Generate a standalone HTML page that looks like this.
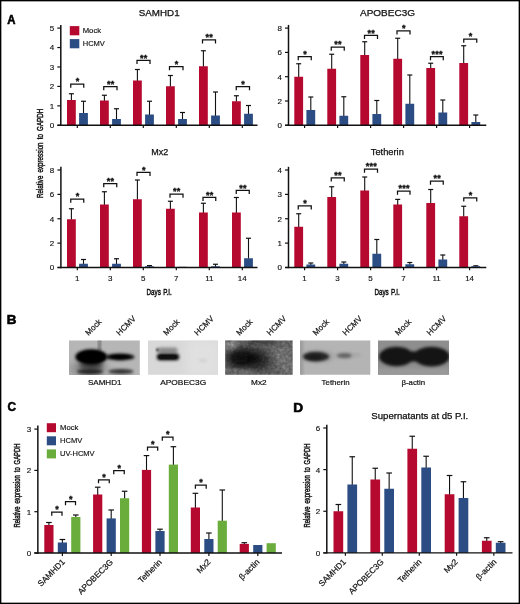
<!DOCTYPE html>
<html lang="en"><head><meta charset="utf-8"><title>Figure</title>
<style>
html,body{margin:0;padding:0;background:#fff;}
body{width:520px;height:604px;overflow:hidden;font-family:"Liberation Sans",Arial,sans-serif;}
svg{display:block;}
svg text{font-family:"Liberation Sans",Arial,Helvetica,sans-serif;}
</style></head><body>
<svg width="520" height="604" viewBox="0 0 520 604">
<rect x="0.65" y="0.65" width="518.7" height="602.7" fill="#fff" stroke="#000" stroke-width="1.4"/>
<line x1="71.40" y1="93.75" x2="71.40" y2="100.50" stroke="#111" stroke-width="1.1"/>
<line x1="68.90" y1="93.75" x2="73.90" y2="93.75" stroke="#111" stroke-width="1.2"/>
<rect x="67.00" y="100.00" width="8.80" height="25.30" fill="#b5092f"/>
<line x1="83.50" y1="101.25" x2="83.50" y2="113.50" stroke="#111" stroke-width="1.1"/>
<line x1="81.00" y1="101.25" x2="86.00" y2="101.25" stroke="#111" stroke-width="1.2"/>
<rect x="79.10" y="113.00" width="8.80" height="12.30" fill="#2c4c84"/>
<line x1="104.40" y1="95.25" x2="104.40" y2="101.00" stroke="#111" stroke-width="1.1"/>
<line x1="101.90" y1="95.25" x2="106.90" y2="95.25" stroke="#111" stroke-width="1.2"/>
<rect x="100.00" y="100.50" width="8.80" height="24.80" fill="#b5092f"/>
<line x1="116.50" y1="108.75" x2="116.50" y2="119.50" stroke="#111" stroke-width="1.1"/>
<line x1="114.00" y1="108.75" x2="119.00" y2="108.75" stroke="#111" stroke-width="1.2"/>
<rect x="112.10" y="119.00" width="8.80" height="6.30" fill="#2c4c84"/>
<line x1="137.40" y1="69.50" x2="137.40" y2="81.00" stroke="#111" stroke-width="1.1"/>
<line x1="134.90" y1="69.50" x2="139.90" y2="69.50" stroke="#111" stroke-width="1.2"/>
<rect x="133.00" y="80.50" width="8.80" height="44.80" fill="#b5092f"/>
<line x1="149.50" y1="101.25" x2="149.50" y2="115.00" stroke="#111" stroke-width="1.1"/>
<line x1="147.00" y1="101.25" x2="152.00" y2="101.25" stroke="#111" stroke-width="1.2"/>
<rect x="145.10" y="114.50" width="8.80" height="10.80" fill="#2c4c84"/>
<line x1="170.40" y1="75.50" x2="170.40" y2="86.75" stroke="#111" stroke-width="1.1"/>
<line x1="167.90" y1="75.50" x2="172.90" y2="75.50" stroke="#111" stroke-width="1.2"/>
<rect x="166.00" y="86.25" width="8.80" height="39.05" fill="#b5092f"/>
<line x1="182.50" y1="112.50" x2="182.50" y2="119.50" stroke="#111" stroke-width="1.1"/>
<line x1="180.00" y1="112.50" x2="185.00" y2="112.50" stroke="#111" stroke-width="1.2"/>
<rect x="178.10" y="119.00" width="8.80" height="6.30" fill="#2c4c84"/>
<line x1="203.40" y1="50.75" x2="203.40" y2="66.75" stroke="#111" stroke-width="1.1"/>
<line x1="200.90" y1="50.75" x2="205.90" y2="50.75" stroke="#111" stroke-width="1.2"/>
<rect x="199.00" y="66.25" width="8.80" height="59.05" fill="#b5092f"/>
<line x1="215.50" y1="92.00" x2="215.50" y2="116.00" stroke="#111" stroke-width="1.1"/>
<line x1="213.00" y1="92.00" x2="218.00" y2="92.00" stroke="#111" stroke-width="1.2"/>
<rect x="211.10" y="115.50" width="8.80" height="9.80" fill="#2c4c84"/>
<line x1="236.40" y1="95.75" x2="236.40" y2="101.75" stroke="#111" stroke-width="1.1"/>
<line x1="233.90" y1="95.75" x2="238.90" y2="95.75" stroke="#111" stroke-width="1.2"/>
<rect x="232.00" y="101.25" width="8.80" height="24.05" fill="#b5092f"/>
<line x1="248.50" y1="105.50" x2="248.50" y2="114.25" stroke="#111" stroke-width="1.1"/>
<line x1="246.00" y1="105.50" x2="251.00" y2="105.50" stroke="#111" stroke-width="1.2"/>
<rect x="244.10" y="113.75" width="8.80" height="11.55" fill="#2c4c84"/>
<path d="M70.75 87.70V84.10H83.75V87.70" fill="none" stroke="#111" stroke-width="1.25"/>
<text x="77.55" y="84.45" font-size="9" text-anchor="middle" font-weight="bold" fill="#111" letter-spacing="0.25" stroke="#111" stroke-width="0.35">*</text>
<path d="M103.75 90.20V86.60H117.00V90.20" fill="none" stroke="#111" stroke-width="1.25"/>
<text x="110.67" y="86.95" font-size="9" text-anchor="middle" font-weight="bold" fill="#111" letter-spacing="0.25" stroke="#111" stroke-width="0.35">**</text>
<path d="M137.00 63.95V60.35H150.00V63.95" fill="none" stroke="#111" stroke-width="1.25"/>
<text x="143.80" y="60.70" font-size="9" text-anchor="middle" font-weight="bold" fill="#111" letter-spacing="0.25" stroke="#111" stroke-width="0.35">**</text>
<path d="M169.50 70.20V66.60H183.00V70.20" fill="none" stroke="#111" stroke-width="1.25"/>
<text x="176.55" y="66.95" font-size="9" text-anchor="middle" font-weight="bold" fill="#111" letter-spacing="0.25" stroke="#111" stroke-width="0.35">*</text>
<path d="M202.50 43.45V39.85H215.50V43.45" fill="none" stroke="#111" stroke-width="1.25"/>
<text x="209.30" y="40.20" font-size="9" text-anchor="middle" font-weight="bold" fill="#111" letter-spacing="0.25" stroke="#111" stroke-width="0.35">**</text>
<path d="M236.25 90.20V86.60H249.50V90.20" fill="none" stroke="#111" stroke-width="1.25"/>
<text x="243.18" y="86.95" font-size="9" text-anchor="middle" font-weight="bold" fill="#111" letter-spacing="0.25" stroke="#111" stroke-width="0.35">*</text>
<line x1="60.80" y1="24.90" x2="60.80" y2="126.00" stroke="#111" stroke-width="1.5"/>
<line x1="57.30" y1="28.10" x2="60.80" y2="28.10" stroke="#111" stroke-width="1.2"/>
<text x="54.20" y="31.00" font-size="8" text-anchor="end" font-weight="normal" fill="#111" stroke="#111" stroke-width="0.15">5</text>
<line x1="57.30" y1="47.54" x2="60.80" y2="47.54" stroke="#111" stroke-width="1.2"/>
<text x="54.20" y="50.44" font-size="8" text-anchor="end" font-weight="normal" fill="#111" stroke="#111" stroke-width="0.15">4</text>
<line x1="57.30" y1="66.98" x2="60.80" y2="66.98" stroke="#111" stroke-width="1.2"/>
<text x="54.20" y="69.88" font-size="8" text-anchor="end" font-weight="normal" fill="#111" stroke="#111" stroke-width="0.15">3</text>
<line x1="57.30" y1="86.42" x2="60.80" y2="86.42" stroke="#111" stroke-width="1.2"/>
<text x="54.20" y="89.32" font-size="8" text-anchor="end" font-weight="normal" fill="#111" stroke="#111" stroke-width="0.15">2</text>
<line x1="57.30" y1="105.86" x2="60.80" y2="105.86" stroke="#111" stroke-width="1.2"/>
<text x="54.20" y="108.76" font-size="8" text-anchor="end" font-weight="normal" fill="#111" stroke="#111" stroke-width="0.15">1</text>
<line x1="57.30" y1="125.30" x2="60.80" y2="125.30" stroke="#111" stroke-width="1.2"/>
<text x="54.20" y="128.20" font-size="8" text-anchor="end" font-weight="normal" fill="#111" stroke="#111" stroke-width="0.15">0</text>
<line x1="57.50" y1="125.30" x2="257.50" y2="125.30" stroke="#111" stroke-width="1.4"/>
<line x1="77.30" y1="125.30" x2="77.30" y2="128.10" stroke="#111" stroke-width="1.2"/>
<line x1="110.30" y1="125.30" x2="110.30" y2="128.10" stroke="#111" stroke-width="1.2"/>
<line x1="143.30" y1="125.30" x2="143.30" y2="128.10" stroke="#111" stroke-width="1.2"/>
<line x1="176.30" y1="125.30" x2="176.30" y2="128.10" stroke="#111" stroke-width="1.2"/>
<line x1="209.30" y1="125.30" x2="209.30" y2="128.10" stroke="#111" stroke-width="1.2"/>
<line x1="242.30" y1="125.30" x2="242.30" y2="128.10" stroke="#111" stroke-width="1.2"/>
<text x="159.20" y="15.80" font-size="8.9" text-anchor="middle" font-weight="normal" fill="#111" textLength="40.80" lengthAdjust="spacingAndGlyphs" stroke="#111" stroke-width="0.25">SAMHD1</text>
<rect x="69.80" y="26.10" width="9.50" height="9.20" fill="#b5092f"/>
<rect x="69.80" y="39.10" width="9.50" height="9.20" fill="#2c4c84"/>
<text x="82.70" y="33.10" font-size="7.4" text-anchor="start" font-weight="normal" fill="#111" textLength="18.40" lengthAdjust="spacingAndGlyphs" stroke="#111" stroke-width="0.15">Mock</text>
<text x="82.70" y="46.10" font-size="7.4" text-anchor="start" font-weight="normal" fill="#111" textLength="22.20" lengthAdjust="spacingAndGlyphs" stroke="#111" stroke-width="0.15">HCMV</text>
<line x1="298.70" y1="63.75" x2="298.70" y2="77.25" stroke="#111" stroke-width="1.1"/>
<line x1="296.20" y1="63.75" x2="301.20" y2="63.75" stroke="#111" stroke-width="1.2"/>
<rect x="294.30" y="76.75" width="8.80" height="48.55" fill="#b5092f"/>
<line x1="310.80" y1="97.00" x2="310.80" y2="110.50" stroke="#111" stroke-width="1.1"/>
<line x1="308.30" y1="97.00" x2="313.30" y2="97.00" stroke="#111" stroke-width="1.2"/>
<rect x="306.40" y="110.00" width="8.80" height="15.30" fill="#2c4c84"/>
<line x1="331.70" y1="54.25" x2="331.70" y2="69.25" stroke="#111" stroke-width="1.1"/>
<line x1="329.20" y1="54.25" x2="334.20" y2="54.25" stroke="#111" stroke-width="1.2"/>
<rect x="327.30" y="68.75" width="8.80" height="56.55" fill="#b5092f"/>
<line x1="343.80" y1="96.75" x2="343.80" y2="116.25" stroke="#111" stroke-width="1.1"/>
<line x1="341.30" y1="96.75" x2="346.30" y2="96.75" stroke="#111" stroke-width="1.2"/>
<rect x="339.40" y="115.75" width="8.80" height="9.55" fill="#2c4c84"/>
<line x1="364.70" y1="41.75" x2="364.70" y2="55.50" stroke="#111" stroke-width="1.1"/>
<line x1="362.20" y1="41.75" x2="367.20" y2="41.75" stroke="#111" stroke-width="1.2"/>
<rect x="360.30" y="55.00" width="8.80" height="70.30" fill="#b5092f"/>
<line x1="376.80" y1="100.50" x2="376.80" y2="114.50" stroke="#111" stroke-width="1.1"/>
<line x1="374.30" y1="100.50" x2="379.30" y2="100.50" stroke="#111" stroke-width="1.2"/>
<rect x="372.40" y="114.00" width="8.80" height="11.30" fill="#2c4c84"/>
<line x1="397.70" y1="38.25" x2="397.70" y2="59.25" stroke="#111" stroke-width="1.1"/>
<line x1="395.20" y1="38.25" x2="400.20" y2="38.25" stroke="#111" stroke-width="1.2"/>
<rect x="393.30" y="58.75" width="8.80" height="66.55" fill="#b5092f"/>
<line x1="409.80" y1="75.00" x2="409.80" y2="104.25" stroke="#111" stroke-width="1.1"/>
<line x1="407.30" y1="75.00" x2="412.30" y2="75.00" stroke="#111" stroke-width="1.2"/>
<rect x="405.40" y="103.75" width="8.80" height="21.55" fill="#2c4c84"/>
<line x1="430.70" y1="63.25" x2="430.70" y2="68.50" stroke="#111" stroke-width="1.1"/>
<line x1="428.20" y1="63.25" x2="433.20" y2="63.25" stroke="#111" stroke-width="1.2"/>
<rect x="426.30" y="68.00" width="8.80" height="57.30" fill="#b5092f"/>
<line x1="442.80" y1="100.00" x2="442.80" y2="113.00" stroke="#111" stroke-width="1.1"/>
<line x1="440.30" y1="100.00" x2="445.30" y2="100.00" stroke="#111" stroke-width="1.2"/>
<rect x="438.40" y="112.50" width="8.80" height="12.80" fill="#2c4c84"/>
<line x1="463.70" y1="45.75" x2="463.70" y2="63.50" stroke="#111" stroke-width="1.1"/>
<line x1="461.20" y1="45.75" x2="466.20" y2="45.75" stroke="#111" stroke-width="1.2"/>
<rect x="459.30" y="63.00" width="8.80" height="62.30" fill="#b5092f"/>
<line x1="475.80" y1="115.00" x2="475.80" y2="122.50" stroke="#111" stroke-width="1.1"/>
<line x1="473.30" y1="115.00" x2="478.30" y2="115.00" stroke="#111" stroke-width="1.2"/>
<rect x="471.40" y="122.00" width="8.80" height="3.30" fill="#2c4c84"/>
<path d="M298.25 60.20V56.60H311.25V60.20" fill="none" stroke="#111" stroke-width="1.25"/>
<text x="305.05" y="56.95" font-size="9" text-anchor="middle" font-weight="bold" fill="#111" letter-spacing="0.25" stroke="#111" stroke-width="0.35">*</text>
<path d="M331.25 50.70V47.10H344.25V50.70" fill="none" stroke="#111" stroke-width="1.25"/>
<text x="338.05" y="47.45" font-size="9" text-anchor="middle" font-weight="bold" fill="#111" letter-spacing="0.25" stroke="#111" stroke-width="0.35">**</text>
<path d="M364.50 38.95V35.35H377.50V38.95" fill="none" stroke="#111" stroke-width="1.25"/>
<text x="371.30" y="35.70" font-size="9" text-anchor="middle" font-weight="bold" fill="#111" letter-spacing="0.25" stroke="#111" stroke-width="0.35">**</text>
<path d="M397.00 34.45V30.85H410.00V34.45" fill="none" stroke="#111" stroke-width="1.25"/>
<text x="403.80" y="31.20" font-size="9" text-anchor="middle" font-weight="bold" fill="#111" letter-spacing="0.25" stroke="#111" stroke-width="0.35">*</text>
<path d="M430.50 60.20V56.60H443.25V60.20" fill="none" stroke="#111" stroke-width="1.25"/>
<text x="437.18" y="56.95" font-size="9" text-anchor="middle" font-weight="bold" fill="#111" letter-spacing="0.25" stroke="#111" stroke-width="0.35">***</text>
<path d="M463.75 42.70V39.10H476.75V42.70" fill="none" stroke="#111" stroke-width="1.25"/>
<text x="470.55" y="39.45" font-size="9" text-anchor="middle" font-weight="bold" fill="#111" letter-spacing="0.25" stroke="#111" stroke-width="0.35">*</text>
<line x1="288.50" y1="24.90" x2="288.50" y2="126.00" stroke="#111" stroke-width="1.5"/>
<line x1="285.00" y1="28.10" x2="288.50" y2="28.10" stroke="#111" stroke-width="1.2"/>
<text x="281.90" y="31.00" font-size="8" text-anchor="end" font-weight="normal" fill="#111" stroke="#111" stroke-width="0.15">8</text>
<line x1="285.00" y1="52.40" x2="288.50" y2="52.40" stroke="#111" stroke-width="1.2"/>
<text x="281.90" y="55.30" font-size="8" text-anchor="end" font-weight="normal" fill="#111" stroke="#111" stroke-width="0.15">6</text>
<line x1="285.00" y1="76.70" x2="288.50" y2="76.70" stroke="#111" stroke-width="1.2"/>
<text x="281.90" y="79.60" font-size="8" text-anchor="end" font-weight="normal" fill="#111" stroke="#111" stroke-width="0.15">4</text>
<line x1="285.00" y1="101.00" x2="288.50" y2="101.00" stroke="#111" stroke-width="1.2"/>
<text x="281.90" y="103.90" font-size="8" text-anchor="end" font-weight="normal" fill="#111" stroke="#111" stroke-width="0.15">2</text>
<line x1="285.00" y1="125.30" x2="288.50" y2="125.30" stroke="#111" stroke-width="1.2"/>
<text x="281.90" y="128.20" font-size="8" text-anchor="end" font-weight="normal" fill="#111" stroke="#111" stroke-width="0.15">0</text>
<line x1="285.20" y1="125.30" x2="486.30" y2="125.30" stroke="#111" stroke-width="1.4"/>
<line x1="304.60" y1="125.30" x2="304.60" y2="128.10" stroke="#111" stroke-width="1.2"/>
<line x1="337.60" y1="125.30" x2="337.60" y2="128.10" stroke="#111" stroke-width="1.2"/>
<line x1="370.60" y1="125.30" x2="370.60" y2="128.10" stroke="#111" stroke-width="1.2"/>
<line x1="403.60" y1="125.30" x2="403.60" y2="128.10" stroke="#111" stroke-width="1.2"/>
<line x1="436.60" y1="125.30" x2="436.60" y2="128.10" stroke="#111" stroke-width="1.2"/>
<line x1="469.60" y1="125.30" x2="469.60" y2="128.10" stroke="#111" stroke-width="1.2"/>
<text x="387.50" y="15.80" font-size="8.9" text-anchor="middle" font-weight="normal" fill="#111" textLength="55.00" lengthAdjust="spacingAndGlyphs" stroke="#111" stroke-width="0.25">APOBEC3G</text>
<line x1="71.40" y1="208.75" x2="71.40" y2="219.75" stroke="#111" stroke-width="1.1"/>
<line x1="68.90" y1="208.75" x2="73.90" y2="208.75" stroke="#111" stroke-width="1.2"/>
<rect x="67.00" y="219.25" width="8.80" height="48.25" fill="#b5092f"/>
<line x1="83.50" y1="259.50" x2="83.50" y2="264.25" stroke="#111" stroke-width="1.1"/>
<line x1="81.00" y1="259.50" x2="86.00" y2="259.50" stroke="#111" stroke-width="1.2"/>
<rect x="79.10" y="263.75" width="8.80" height="3.75" fill="#2c4c84"/>
<line x1="104.40" y1="191.75" x2="104.40" y2="205.00" stroke="#111" stroke-width="1.1"/>
<line x1="101.90" y1="191.75" x2="106.90" y2="191.75" stroke="#111" stroke-width="1.2"/>
<rect x="100.00" y="204.50" width="8.80" height="63.00" fill="#b5092f"/>
<line x1="116.50" y1="258.75" x2="116.50" y2="264.25" stroke="#111" stroke-width="1.1"/>
<line x1="114.00" y1="258.75" x2="119.00" y2="258.75" stroke="#111" stroke-width="1.2"/>
<rect x="112.10" y="263.75" width="8.80" height="3.75" fill="#2c4c84"/>
<line x1="137.40" y1="180.00" x2="137.40" y2="199.75" stroke="#111" stroke-width="1.1"/>
<line x1="134.90" y1="180.00" x2="139.90" y2="180.00" stroke="#111" stroke-width="1.2"/>
<rect x="133.00" y="199.25" width="8.80" height="68.25" fill="#b5092f"/>
<line x1="149.50" y1="265.60" x2="149.50" y2="266.80" stroke="#111" stroke-width="1.1"/>
<line x1="147.00" y1="265.60" x2="152.00" y2="265.60" stroke="#111" stroke-width="1.2"/>
<rect x="145.10" y="266.30" width="8.80" height="1.20" fill="#2c4c84"/>
<line x1="170.40" y1="201.25" x2="170.40" y2="209.25" stroke="#111" stroke-width="1.1"/>
<line x1="167.90" y1="201.25" x2="172.90" y2="201.25" stroke="#111" stroke-width="1.2"/>
<rect x="166.00" y="208.75" width="8.80" height="58.75" fill="#b5092f"/>
<rect x="178.10" y="266.80" width="8.80" height="0.70" fill="#2c4c84"/>
<line x1="203.40" y1="203.25" x2="203.40" y2="213.00" stroke="#111" stroke-width="1.1"/>
<line x1="200.90" y1="203.25" x2="205.90" y2="203.25" stroke="#111" stroke-width="1.2"/>
<rect x="199.00" y="212.50" width="8.80" height="55.00" fill="#b5092f"/>
<line x1="215.50" y1="264.25" x2="215.50" y2="266.80" stroke="#111" stroke-width="1.1"/>
<line x1="213.00" y1="264.25" x2="218.00" y2="264.25" stroke="#111" stroke-width="1.2"/>
<rect x="211.10" y="266.30" width="8.80" height="1.20" fill="#2c4c84"/>
<line x1="236.40" y1="197.50" x2="236.40" y2="213.00" stroke="#111" stroke-width="1.1"/>
<line x1="233.90" y1="197.50" x2="238.90" y2="197.50" stroke="#111" stroke-width="1.2"/>
<rect x="232.00" y="212.50" width="8.80" height="55.00" fill="#b5092f"/>
<line x1="248.50" y1="238.25" x2="248.50" y2="258.75" stroke="#111" stroke-width="1.1"/>
<line x1="246.00" y1="238.25" x2="251.00" y2="238.25" stroke="#111" stroke-width="1.2"/>
<rect x="244.10" y="258.25" width="8.80" height="9.25" fill="#2c4c84"/>
<path d="M70.75 202.70V199.10H83.75V202.70" fill="none" stroke="#111" stroke-width="1.25"/>
<text x="77.55" y="199.45" font-size="9" text-anchor="middle" font-weight="bold" fill="#111" letter-spacing="0.25" stroke="#111" stroke-width="0.35">*</text>
<path d="M103.75 187.20V183.60H116.75V187.20" fill="none" stroke="#111" stroke-width="1.25"/>
<text x="110.55" y="183.95" font-size="9" text-anchor="middle" font-weight="bold" fill="#111" letter-spacing="0.25" stroke="#111" stroke-width="0.35">**</text>
<path d="M137.00 175.95V172.35H150.00V175.95" fill="none" stroke="#111" stroke-width="1.25"/>
<text x="143.80" y="172.70" font-size="9" text-anchor="middle" font-weight="bold" fill="#111" letter-spacing="0.25" stroke="#111" stroke-width="0.35">*</text>
<path d="M170.00 197.70V194.10H183.00V197.70" fill="none" stroke="#111" stroke-width="1.25"/>
<text x="176.80" y="194.45" font-size="9" text-anchor="middle" font-weight="bold" fill="#111" letter-spacing="0.25" stroke="#111" stroke-width="0.35">**</text>
<path d="M203.00 200.95V197.35H215.75V200.95" fill="none" stroke="#111" stroke-width="1.25"/>
<text x="209.68" y="197.70" font-size="9" text-anchor="middle" font-weight="bold" fill="#111" letter-spacing="0.25" stroke="#111" stroke-width="0.35">**</text>
<path d="M236.25 193.95V190.35H249.25V193.95" fill="none" stroke="#111" stroke-width="1.25"/>
<text x="243.05" y="190.70" font-size="9" text-anchor="middle" font-weight="bold" fill="#111" letter-spacing="0.25" stroke="#111" stroke-width="0.35">**</text>
<line x1="60.90" y1="166.80" x2="60.90" y2="268.20" stroke="#111" stroke-width="1.5"/>
<line x1="57.40" y1="170.00" x2="60.90" y2="170.00" stroke="#111" stroke-width="1.2"/>
<text x="54.30" y="172.90" font-size="8" text-anchor="end" font-weight="normal" fill="#111" stroke="#111" stroke-width="0.15">8</text>
<line x1="57.40" y1="194.38" x2="60.90" y2="194.38" stroke="#111" stroke-width="1.2"/>
<text x="54.30" y="197.28" font-size="8" text-anchor="end" font-weight="normal" fill="#111" stroke="#111" stroke-width="0.15">6</text>
<line x1="57.40" y1="218.75" x2="60.90" y2="218.75" stroke="#111" stroke-width="1.2"/>
<text x="54.30" y="221.65" font-size="8" text-anchor="end" font-weight="normal" fill="#111" stroke="#111" stroke-width="0.15">4</text>
<line x1="57.40" y1="243.12" x2="60.90" y2="243.12" stroke="#111" stroke-width="1.2"/>
<text x="54.30" y="246.03" font-size="8" text-anchor="end" font-weight="normal" fill="#111" stroke="#111" stroke-width="0.15">2</text>
<line x1="57.40" y1="267.50" x2="60.90" y2="267.50" stroke="#111" stroke-width="1.2"/>
<text x="54.30" y="270.40" font-size="8" text-anchor="end" font-weight="normal" fill="#111" stroke="#111" stroke-width="0.15">0</text>
<line x1="57.60" y1="267.50" x2="257.50" y2="267.50" stroke="#111" stroke-width="1.4"/>
<line x1="77.30" y1="267.50" x2="77.30" y2="270.30" stroke="#111" stroke-width="1.2"/>
<line x1="110.30" y1="267.50" x2="110.30" y2="270.30" stroke="#111" stroke-width="1.2"/>
<line x1="143.30" y1="267.50" x2="143.30" y2="270.30" stroke="#111" stroke-width="1.2"/>
<line x1="176.30" y1="267.50" x2="176.30" y2="270.30" stroke="#111" stroke-width="1.2"/>
<line x1="209.30" y1="267.50" x2="209.30" y2="270.30" stroke="#111" stroke-width="1.2"/>
<line x1="242.30" y1="267.50" x2="242.30" y2="270.30" stroke="#111" stroke-width="1.2"/>
<text x="159.80" y="154.60" font-size="8.9" text-anchor="middle" font-weight="normal" fill="#111" textLength="17.00" lengthAdjust="spacingAndGlyphs" stroke="#111" stroke-width="0.25">Mx2</text>
<text x="77.30" y="281.00" font-size="8" text-anchor="middle" font-weight="normal" fill="#111" stroke="#111" stroke-width="0.15">1</text>
<text x="110.30" y="281.00" font-size="8" text-anchor="middle" font-weight="normal" fill="#111" stroke="#111" stroke-width="0.15">3</text>
<text x="143.30" y="281.00" font-size="8" text-anchor="middle" font-weight="normal" fill="#111" stroke="#111" stroke-width="0.15">5</text>
<text x="176.30" y="281.00" font-size="8" text-anchor="middle" font-weight="normal" fill="#111" stroke="#111" stroke-width="0.15">7</text>
<text x="209.30" y="281.00" font-size="8" text-anchor="middle" font-weight="normal" fill="#111" stroke="#111" stroke-width="0.15">11</text>
<text x="242.30" y="281.00" font-size="8" text-anchor="middle" font-weight="normal" fill="#111" stroke="#111" stroke-width="0.15">14</text>
<text font-size="9.5" fill="#111" stroke="#111" stroke-width="0.5" transform="translate(146.6 295.0) scale(0.66 1)" word-spacing="1">Days P.I.</text>
<line x1="298.70" y1="213.75" x2="298.70" y2="227.25" stroke="#111" stroke-width="1.1"/>
<line x1="296.20" y1="213.75" x2="301.20" y2="213.75" stroke="#111" stroke-width="1.2"/>
<rect x="294.30" y="226.75" width="8.80" height="40.75" fill="#b5092f"/>
<line x1="310.80" y1="263.00" x2="310.80" y2="265.00" stroke="#111" stroke-width="1.1"/>
<line x1="308.30" y1="263.00" x2="313.30" y2="263.00" stroke="#111" stroke-width="1.2"/>
<rect x="306.40" y="264.50" width="8.80" height="3.00" fill="#2c4c84"/>
<line x1="331.70" y1="186.75" x2="331.70" y2="197.50" stroke="#111" stroke-width="1.1"/>
<line x1="329.20" y1="186.75" x2="334.20" y2="186.75" stroke="#111" stroke-width="1.2"/>
<rect x="327.30" y="197.00" width="8.80" height="70.50" fill="#b5092f"/>
<line x1="343.80" y1="262.00" x2="343.80" y2="264.25" stroke="#111" stroke-width="1.1"/>
<line x1="341.30" y1="262.00" x2="346.30" y2="262.00" stroke="#111" stroke-width="1.2"/>
<rect x="339.40" y="263.75" width="8.80" height="3.75" fill="#2c4c84"/>
<line x1="364.70" y1="177.00" x2="364.70" y2="191.00" stroke="#111" stroke-width="1.1"/>
<line x1="362.20" y1="177.00" x2="367.20" y2="177.00" stroke="#111" stroke-width="1.2"/>
<rect x="360.30" y="190.50" width="8.80" height="77.00" fill="#b5092f"/>
<line x1="376.80" y1="239.50" x2="376.80" y2="254.25" stroke="#111" stroke-width="1.1"/>
<line x1="374.30" y1="239.50" x2="379.30" y2="239.50" stroke="#111" stroke-width="1.2"/>
<rect x="372.40" y="253.75" width="8.80" height="13.75" fill="#2c4c84"/>
<line x1="397.70" y1="199.40" x2="397.70" y2="205.00" stroke="#111" stroke-width="1.1"/>
<line x1="395.20" y1="199.40" x2="400.20" y2="199.40" stroke="#111" stroke-width="1.2"/>
<rect x="393.30" y="204.50" width="8.80" height="63.00" fill="#b5092f"/>
<line x1="409.80" y1="262.50" x2="409.80" y2="264.75" stroke="#111" stroke-width="1.1"/>
<line x1="407.30" y1="262.50" x2="412.30" y2="262.50" stroke="#111" stroke-width="1.2"/>
<rect x="405.40" y="264.25" width="8.80" height="3.25" fill="#2c4c84"/>
<line x1="430.70" y1="189.50" x2="430.70" y2="203.50" stroke="#111" stroke-width="1.1"/>
<line x1="428.20" y1="189.50" x2="433.20" y2="189.50" stroke="#111" stroke-width="1.2"/>
<rect x="426.30" y="203.00" width="8.80" height="64.50" fill="#b5092f"/>
<line x1="442.80" y1="255.00" x2="442.80" y2="260.00" stroke="#111" stroke-width="1.1"/>
<line x1="440.30" y1="255.00" x2="445.30" y2="255.00" stroke="#111" stroke-width="1.2"/>
<rect x="438.40" y="259.50" width="8.80" height="8.00" fill="#2c4c84"/>
<line x1="463.70" y1="206.25" x2="463.70" y2="216.75" stroke="#111" stroke-width="1.1"/>
<line x1="461.20" y1="206.25" x2="466.20" y2="206.25" stroke="#111" stroke-width="1.2"/>
<rect x="459.30" y="216.25" width="8.80" height="51.25" fill="#b5092f"/>
<line x1="475.80" y1="265.80" x2="475.80" y2="266.70" stroke="#111" stroke-width="1.1"/>
<line x1="473.30" y1="265.80" x2="478.30" y2="265.80" stroke="#111" stroke-width="1.2"/>
<rect x="471.40" y="266.20" width="8.80" height="1.30" fill="#2c4c84"/>
<path d="M298.25 209.45V205.85H311.25V209.45" fill="none" stroke="#111" stroke-width="1.25"/>
<text x="305.05" y="206.20" font-size="9" text-anchor="middle" font-weight="bold" fill="#111" letter-spacing="0.25" stroke="#111" stroke-width="0.35">*</text>
<path d="M331.25 181.45V177.85H344.25V181.45" fill="none" stroke="#111" stroke-width="1.25"/>
<text x="338.05" y="178.20" font-size="9" text-anchor="middle" font-weight="bold" fill="#111" letter-spacing="0.25" stroke="#111" stroke-width="0.35">**</text>
<path d="M364.50 172.70V169.10H377.50V172.70" fill="none" stroke="#111" stroke-width="1.25"/>
<text x="371.30" y="169.45" font-size="9" text-anchor="middle" font-weight="bold" fill="#111" letter-spacing="0.25" stroke="#111" stroke-width="0.35">***</text>
<path d="M397.50 194.70V191.10H410.00V194.70" fill="none" stroke="#111" stroke-width="1.25"/>
<text x="404.05" y="191.45" font-size="9" text-anchor="middle" font-weight="bold" fill="#111" letter-spacing="0.25" stroke="#111" stroke-width="0.35">***</text>
<path d="M430.50 184.70V181.10H443.25V184.70" fill="none" stroke="#111" stroke-width="1.25"/>
<text x="437.18" y="181.45" font-size="9" text-anchor="middle" font-weight="bold" fill="#111" letter-spacing="0.25" stroke="#111" stroke-width="0.35">**</text>
<path d="M463.75 201.45V197.85H476.75V201.45" fill="none" stroke="#111" stroke-width="1.25"/>
<text x="470.55" y="198.20" font-size="9" text-anchor="middle" font-weight="bold" fill="#111" letter-spacing="0.25" stroke="#111" stroke-width="0.35">*</text>
<line x1="288.50" y1="166.80" x2="288.50" y2="268.20" stroke="#111" stroke-width="1.5"/>
<line x1="285.00" y1="170.00" x2="288.50" y2="170.00" stroke="#111" stroke-width="1.2"/>
<text x="281.90" y="172.90" font-size="8" text-anchor="end" font-weight="normal" fill="#111" stroke="#111" stroke-width="0.15">4</text>
<line x1="285.00" y1="194.38" x2="288.50" y2="194.38" stroke="#111" stroke-width="1.2"/>
<text x="281.90" y="197.28" font-size="8" text-anchor="end" font-weight="normal" fill="#111" stroke="#111" stroke-width="0.15">3</text>
<line x1="285.00" y1="218.75" x2="288.50" y2="218.75" stroke="#111" stroke-width="1.2"/>
<text x="281.90" y="221.65" font-size="8" text-anchor="end" font-weight="normal" fill="#111" stroke="#111" stroke-width="0.15">2</text>
<line x1="285.00" y1="243.12" x2="288.50" y2="243.12" stroke="#111" stroke-width="1.2"/>
<text x="281.90" y="246.03" font-size="8" text-anchor="end" font-weight="normal" fill="#111" stroke="#111" stroke-width="0.15">1</text>
<line x1="285.00" y1="267.50" x2="288.50" y2="267.50" stroke="#111" stroke-width="1.2"/>
<text x="281.90" y="270.40" font-size="8" text-anchor="end" font-weight="normal" fill="#111" stroke="#111" stroke-width="0.15">0</text>
<line x1="285.20" y1="267.50" x2="486.30" y2="267.50" stroke="#111" stroke-width="1.4"/>
<line x1="304.60" y1="267.50" x2="304.60" y2="270.30" stroke="#111" stroke-width="1.2"/>
<line x1="337.60" y1="267.50" x2="337.60" y2="270.30" stroke="#111" stroke-width="1.2"/>
<line x1="370.60" y1="267.50" x2="370.60" y2="270.30" stroke="#111" stroke-width="1.2"/>
<line x1="403.60" y1="267.50" x2="403.60" y2="270.30" stroke="#111" stroke-width="1.2"/>
<line x1="436.60" y1="267.50" x2="436.60" y2="270.30" stroke="#111" stroke-width="1.2"/>
<line x1="469.60" y1="267.50" x2="469.60" y2="270.30" stroke="#111" stroke-width="1.2"/>
<text x="387.30" y="154.60" font-size="8.9" text-anchor="middle" font-weight="normal" fill="#111" textLength="33.00" lengthAdjust="spacingAndGlyphs" stroke="#111" stroke-width="0.25">Tetherin</text>
<text x="304.60" y="281.00" font-size="8" text-anchor="middle" font-weight="normal" fill="#111" stroke="#111" stroke-width="0.15">1</text>
<text x="337.60" y="281.00" font-size="8" text-anchor="middle" font-weight="normal" fill="#111" stroke="#111" stroke-width="0.15">3</text>
<text x="370.60" y="281.00" font-size="8" text-anchor="middle" font-weight="normal" fill="#111" stroke="#111" stroke-width="0.15">5</text>
<text x="403.60" y="281.00" font-size="8" text-anchor="middle" font-weight="normal" fill="#111" stroke="#111" stroke-width="0.15">7</text>
<text x="436.60" y="281.00" font-size="8" text-anchor="middle" font-weight="normal" fill="#111" stroke="#111" stroke-width="0.15">11</text>
<text x="469.60" y="281.00" font-size="8" text-anchor="middle" font-weight="normal" fill="#111" stroke="#111" stroke-width="0.15">14</text>
<text font-size="9.5" fill="#111" stroke="#111" stroke-width="0.5" transform="translate(374.4 295.0) scale(0.66 1)" word-spacing="1">Days P.I.</text>
<text x="0" y="0" font-size="9.2" text-anchor="middle" fill="#111" stroke="#111" stroke-width="0.45" word-spacing="2.19" transform="translate(43.40 153.45) rotate(-90) scale(0.675 1)">Relative expression to GAPDH</text>
<text font-size="12" font-weight="bold" fill="#000" stroke="#000" stroke-width="0.55" transform="translate(7.20 23.70) scale(0.95 1)">A</text>
<text font-size="12" font-weight="bold" fill="#000" stroke="#000" stroke-width="0.55" transform="translate(6.80 324.00) scale(1.12 1)">B</text>
<text font-size="12" font-weight="bold" fill="#000" stroke="#000" stroke-width="0.55" transform="translate(7.50 411.00) scale(0.98 1)">C</text>
<text font-size="12" font-weight="bold" fill="#000" stroke="#000" stroke-width="0.55" transform="translate(293.30 412.10) scale(1.14 1)">D</text>
<defs>
<filter id="b1" x="-30%" y="-60%" width="160%" height="220%" color-interpolation-filters="sRGB"><feGaussianBlur stdDeviation="1.6"/></filter>
<filter id="b2" x="-30%" y="-60%" width="160%" height="220%"><feGaussianBlur stdDeviation="2.4"/></filter>
<filter id="b3" x="-30%" y="-60%" width="160%" height="220%"><feGaussianBlur stdDeviation="4"/></filter>
<filter id="b05" x="-30%" y="-60%" width="160%" height="220%"><feGaussianBlur stdDeviation="0.8"/></filter>
<filter id="nz" x="0" y="0" width="100%" height="100%"><feTurbulence type="fractalNoise" baseFrequency="0.35" numOctaves="2" seed="7"/><feColorMatrix type="matrix" values="0 0 0 0 0  0 0 0 0 0  0 0 0 0 0  0.9 0 0 0 -0.2"/></filter>
<clipPath id="c1"><rect x="69" y="340.4" width="70.8" height="34.6"/></clipPath>
<clipPath id="c2"><rect x="148" y="340.4" width="70" height="34.4"/></clipPath>
<clipPath id="c3"><rect x="225.2" y="340.4" width="67.4" height="34.4"/></clipPath>
<clipPath id="c4"><rect x="300" y="340.4" width="70.3" height="34.4"/></clipPath>
<clipPath id="c5"><rect x="378" y="340.4" width="71" height="34.4"/></clipPath>
</defs>
<g clip-path="url(#c1)"><rect x="69" y="340" width="71" height="36" fill="#b6b6b6"/><ellipse cx="88" cy="369" rx="20" ry="9" fill="#8f8f8f" filter="url(#b3)"/><rect x="98.3" y="338" width="2.6" height="14" fill="#6a6a6a" filter="url(#b1)"/><ellipse cx="91" cy="365.5" rx="12" ry="5" fill="#3c3c3c" filter="url(#b2)"/><ellipse cx="91.3" cy="356.8" rx="16" ry="7.6" fill="#000" filter="url(#b1)"/><ellipse cx="91.5" cy="356.8" rx="13.5" ry="5.8" fill="#000"  filter="url(#b05)"/><ellipse cx="120" cy="356.9" rx="14.5" ry="3.5" fill="#080808" filter="url(#b1)"/><ellipse cx="120" cy="356.9" rx="10" ry="1.6" fill="#000" filter="url(#b05)"/><ellipse cx="90" cy="371.6" rx="13" ry="2.6" fill="#222" filter="url(#b1)"/><ellipse cx="121" cy="371.6" rx="12.5" ry="2.5" fill="#303030" filter="url(#b1)"/></g>
<g clip-path="url(#c2)"><rect x="148" y="340" width="70" height="36" fill="#d8d8d8"/><rect x="186" y="340" width="34" height="36" fill="#e0e0e0" filter="url(#b3)"/><rect x="158" y="347.6" width="19.5" height="5.4" rx="2.5" fill="#8a8a8a" filter="url(#b1)"/><rect x="156.8" y="353.6" width="22.4" height="6.6" rx="3.3" fill="#0c0c0c" filter="url(#b1)"/><rect x="159" y="355.4" width="17" height="3" rx="1.5" fill="#080808" filter="url(#b05)"/><circle cx="157.4" cy="349.9" r="1.4" fill="#1a1a1a" filter="url(#b05)"/><ellipse cx="203" cy="360.5" rx="4" ry="1.5" fill="#cfcfcf" filter="url(#b1)"/></g>
<g clip-path="url(#c3)"><rect x="225" y="340" width="68" height="36" fill="#727272"/><ellipse cx="281" cy="356" rx="9" ry="9" fill="#8a8a8a" filter="url(#b3)"/><ellipse cx="262" cy="341" rx="16" ry="2.5" fill="#3a3a3a" filter="url(#b2)"/><ellipse cx="262" cy="362" rx="12" ry="9" fill="#4a4a4a" filter="url(#b3)"/><ellipse cx="246" cy="358.5" rx="19" ry="9" fill="#0a0a0a" filter="url(#b3)"/><ellipse cx="241" cy="358" rx="9" ry="5" fill="#0a0a0a" filter="url(#b3)"/><ellipse cx="231" cy="344.5" rx="6" ry="4" fill="#aaa" filter="url(#b2)"/><ellipse cx="240" cy="372.5" rx="14" ry="2.2" fill="#8a8a8a" filter="url(#b2)"/><ellipse cx="288" cy="368" rx="5" ry="6" fill="#8c8c8c" filter="url(#b2)"/><rect x="225" y="340" width="68" height="36" filter="url(#nz)" opacity="0.6"/></g>
<g clip-path="url(#c4)"><rect x="300" y="340" width="71" height="36" fill="#b4b4b4"/><rect x="299" y="340" width="4" height="36" fill="#9a9a9a" filter="url(#b1)"/><ellipse cx="318" cy="356.5" rx="17" ry="6" fill="#a0a0a0" filter="url(#b2)"/><ellipse cx="316" cy="356.6" rx="13.2" ry="4.9" fill="#262626" filter="url(#b1)"/><ellipse cx="314" cy="357" rx="8" ry="2.6" fill="#1c1c1c" filter="url(#b1)"/><ellipse cx="344.6" cy="355.6" rx="8" ry="2.7" fill="#626262" filter="url(#b1)"/><ellipse cx="356" cy="355" rx="5" ry="1.5" fill="#a4a4a4" filter="url(#b1)"/></g>
<g clip-path="url(#c5)"><rect x="378" y="340" width="71" height="36" fill="#8e8e8e"/><rect x="378" y="368" width="71" height="8" fill="#999" filter="url(#b1)"/><g filter="url(#b1)" fill="#141414"><ellipse cx="396.4" cy="356.5" rx="17.4" ry="9.7"/><ellipse cx="431.6" cy="356.6" rx="18" ry="9.9"/><rect x="384" y="348.2" width="25" height="16.6" rx="7"/><rect x="419" y="348.2" width="26" height="16.8" rx="7"/><rect x="400" y="351.4" width="28" height="10.2"/></g></g>
<text x="104.70" y="385.20" font-size="8" text-anchor="middle" font-weight="normal" fill="#111" textLength="33.60" lengthAdjust="spacingAndGlyphs" stroke="#111" stroke-width="0.2">SAMHD1</text>
<text x="183.20" y="385.20" font-size="8" text-anchor="middle" font-weight="normal" fill="#111" textLength="46.00" lengthAdjust="spacingAndGlyphs" stroke="#111" stroke-width="0.2">APOBEC3G</text>
<text x="258.80" y="385.20" font-size="8" text-anchor="middle" font-weight="normal" fill="#111" textLength="15.50" lengthAdjust="spacingAndGlyphs" stroke="#111" stroke-width="0.2">Mx2</text>
<text x="335.60" y="385.20" font-size="8" text-anchor="middle" font-weight="normal" fill="#111" textLength="28.00" lengthAdjust="spacingAndGlyphs" stroke="#111" stroke-width="0.2">Tetherin</text>
<text x="413.30" y="385.20" font-size="8" text-anchor="middle" font-weight="normal" fill="#111" textLength="23.70" lengthAdjust="spacingAndGlyphs" stroke="#111" stroke-width="0.2">β-actin</text>
<text x="88.50" y="336.00" font-size="8.1" text-anchor="start" font-weight="normal" fill="#111" transform="rotate(-45 88.50 336.00)" stroke="#111" stroke-width="0.2">Mock</text>
<text x="119.50" y="336.00" font-size="8.1" text-anchor="start" font-weight="normal" fill="#111" transform="rotate(-45 119.50 336.00)" stroke="#111" stroke-width="0.2">HCMV</text>
<text x="166.50" y="336.00" font-size="8.1" text-anchor="start" font-weight="normal" fill="#111" transform="rotate(-45 166.50 336.00)" stroke="#111" stroke-width="0.2">Mock</text>
<text x="197.50" y="336.00" font-size="8.1" text-anchor="start" font-weight="normal" fill="#111" transform="rotate(-45 197.50 336.00)" stroke="#111" stroke-width="0.2">HCMV</text>
<text x="239.50" y="336.00" font-size="8.1" text-anchor="start" font-weight="normal" fill="#111" transform="rotate(-45 239.50 336.00)" stroke="#111" stroke-width="0.2">Mock</text>
<text x="270.00" y="336.00" font-size="8.1" text-anchor="start" font-weight="normal" fill="#111" transform="rotate(-45 270.00 336.00)" stroke="#111" stroke-width="0.2">HCMV</text>
<text x="316.00" y="336.00" font-size="8.1" text-anchor="start" font-weight="normal" fill="#111" transform="rotate(-45 316.00 336.00)" stroke="#111" stroke-width="0.2">Mock</text>
<text x="345.80" y="336.00" font-size="8.1" text-anchor="start" font-weight="normal" fill="#111" transform="rotate(-45 345.80 336.00)" stroke="#111" stroke-width="0.2">HCMV</text>
<text x="398.30" y="336.00" font-size="8.1" text-anchor="start" font-weight="normal" fill="#111" transform="rotate(-45 398.30 336.00)" stroke="#111" stroke-width="0.2">Mock</text>
<text x="430.00" y="336.00" font-size="8.1" text-anchor="start" font-weight="normal" fill="#111" transform="rotate(-45 430.00 336.00)" stroke="#111" stroke-width="0.2">HCMV</text>
<line x1="48.90" y1="522.50" x2="48.90" y2="525.50" stroke="#111" stroke-width="1.1"/>
<line x1="46.10" y1="522.50" x2="51.70" y2="522.50" stroke="#111" stroke-width="1.2"/>
<rect x="44.30" y="525.00" width="9.20" height="28.00" fill="#b5092f"/>
<line x1="62.40" y1="539.50" x2="62.40" y2="543.00" stroke="#111" stroke-width="1.1"/>
<line x1="59.60" y1="539.50" x2="65.20" y2="539.50" stroke="#111" stroke-width="1.2"/>
<rect x="57.80" y="542.50" width="9.20" height="10.50" fill="#2c4c84"/>
<line x1="75.80" y1="515.00" x2="75.80" y2="517.50" stroke="#111" stroke-width="1.1"/>
<line x1="73.00" y1="515.00" x2="78.60" y2="515.00" stroke="#111" stroke-width="1.2"/>
<rect x="71.20" y="517.00" width="9.20" height="36.00" fill="#6bad3d"/>
<line x1="97.70" y1="487.20" x2="97.70" y2="495.00" stroke="#111" stroke-width="1.1"/>
<line x1="94.90" y1="487.20" x2="100.50" y2="487.20" stroke="#111" stroke-width="1.2"/>
<rect x="93.10" y="494.50" width="9.20" height="58.50" fill="#b5092f"/>
<line x1="111.20" y1="510.00" x2="111.20" y2="518.90" stroke="#111" stroke-width="1.1"/>
<line x1="108.40" y1="510.00" x2="114.00" y2="510.00" stroke="#111" stroke-width="1.2"/>
<rect x="106.60" y="518.40" width="9.20" height="34.60" fill="#2c4c84"/>
<line x1="124.60" y1="491.25" x2="124.60" y2="498.75" stroke="#111" stroke-width="1.1"/>
<line x1="121.80" y1="491.25" x2="127.40" y2="491.25" stroke="#111" stroke-width="1.2"/>
<rect x="120.00" y="498.25" width="9.20" height="54.75" fill="#6bad3d"/>
<line x1="146.50" y1="455.60" x2="146.50" y2="470.40" stroke="#111" stroke-width="1.1"/>
<line x1="143.70" y1="455.60" x2="149.30" y2="455.60" stroke="#111" stroke-width="1.2"/>
<rect x="141.90" y="469.90" width="9.20" height="83.10" fill="#b5092f"/>
<line x1="160.00" y1="529.20" x2="160.00" y2="531.50" stroke="#111" stroke-width="1.1"/>
<line x1="157.20" y1="529.20" x2="162.80" y2="529.20" stroke="#111" stroke-width="1.2"/>
<rect x="155.40" y="531.00" width="9.20" height="22.00" fill="#2c4c84"/>
<line x1="173.40" y1="446.70" x2="173.40" y2="465.10" stroke="#111" stroke-width="1.1"/>
<line x1="170.60" y1="446.70" x2="176.20" y2="446.70" stroke="#111" stroke-width="1.2"/>
<rect x="168.80" y="464.60" width="9.20" height="88.40" fill="#6bad3d"/>
<line x1="195.40" y1="493.30" x2="195.40" y2="508.00" stroke="#111" stroke-width="1.1"/>
<line x1="192.60" y1="493.30" x2="198.20" y2="493.30" stroke="#111" stroke-width="1.2"/>
<rect x="190.80" y="507.50" width="9.20" height="45.50" fill="#b5092f"/>
<line x1="208.90" y1="533.00" x2="208.90" y2="539.50" stroke="#111" stroke-width="1.1"/>
<line x1="206.10" y1="533.00" x2="211.70" y2="533.00" stroke="#111" stroke-width="1.2"/>
<rect x="204.30" y="539.00" width="9.20" height="14.00" fill="#2c4c84"/>
<line x1="222.30" y1="490.00" x2="222.30" y2="521.20" stroke="#111" stroke-width="1.1"/>
<line x1="219.50" y1="490.00" x2="225.10" y2="490.00" stroke="#111" stroke-width="1.2"/>
<rect x="217.70" y="520.70" width="9.20" height="32.30" fill="#6bad3d"/>
<line x1="244.30" y1="542.70" x2="244.30" y2="544.40" stroke="#111" stroke-width="1.1"/>
<line x1="241.50" y1="542.70" x2="247.10" y2="542.70" stroke="#111" stroke-width="1.2"/>
<rect x="239.70" y="543.90" width="9.20" height="9.10" fill="#b5092f"/>
<rect x="253.20" y="545.00" width="9.20" height="8.00" fill="#2c4c84"/>
<rect x="266.60" y="543.20" width="9.20" height="9.80" fill="#6bad3d"/>
<path d="M51.75 515.70V512.10H62.00V515.70" fill="none" stroke="#111" stroke-width="1.25"/>
<text x="57.17" y="512.45" font-size="9" text-anchor="middle" font-weight="bold" fill="#111" letter-spacing="0.25" stroke="#111" stroke-width="0.35">*</text>
<path d="M65.50 505.20V501.60H75.50V505.20" fill="none" stroke="#111" stroke-width="1.25"/>
<text x="70.80" y="501.95" font-size="9" text-anchor="middle" font-weight="bold" fill="#111" letter-spacing="0.25" stroke="#111" stroke-width="0.35">*</text>
<path d="M98.50 483.35V479.75H109.25V483.35" fill="none" stroke="#111" stroke-width="1.25"/>
<text x="104.17" y="480.10" font-size="9" text-anchor="middle" font-weight="bold" fill="#111" letter-spacing="0.25" stroke="#111" stroke-width="0.35">*</text>
<path d="M113.75 474.15V470.55H124.25V474.15" fill="none" stroke="#111" stroke-width="1.25"/>
<text x="119.30" y="470.90" font-size="9" text-anchor="middle" font-weight="bold" fill="#111" letter-spacing="0.25" stroke="#111" stroke-width="0.35">*</text>
<path d="M147.50 450.65V447.05H157.70V450.65" fill="none" stroke="#111" stroke-width="1.25"/>
<text x="152.90" y="447.40" font-size="9" text-anchor="middle" font-weight="bold" fill="#111" letter-spacing="0.25" stroke="#111" stroke-width="0.35">*</text>
<path d="M162.30 440.65V437.05H173.00V440.65" fill="none" stroke="#111" stroke-width="1.25"/>
<text x="167.95" y="437.40" font-size="9" text-anchor="middle" font-weight="bold" fill="#111" letter-spacing="0.25" stroke="#111" stroke-width="0.35">*</text>
<path d="M195.40 488.65V485.05H206.20V488.65" fill="none" stroke="#111" stroke-width="1.25"/>
<text x="201.10" y="485.40" font-size="9" text-anchor="middle" font-weight="bold" fill="#111" letter-spacing="0.25" stroke="#111" stroke-width="0.35">*</text>
<line x1="37.85" y1="425.60" x2="37.85" y2="553.70" stroke="#111" stroke-width="1.5"/>
<line x1="34.35" y1="553.00" x2="37.85" y2="553.00" stroke="#111" stroke-width="1.2"/>
<text x="31.25" y="555.90" font-size="8" text-anchor="end" font-weight="normal" fill="#111" stroke="#111" stroke-width="0.15">0</text>
<line x1="34.35" y1="511.70" x2="37.85" y2="511.70" stroke="#111" stroke-width="1.2"/>
<text x="31.25" y="514.60" font-size="8" text-anchor="end" font-weight="normal" fill="#111" stroke="#111" stroke-width="0.15">1</text>
<line x1="34.35" y1="470.40" x2="37.85" y2="470.40" stroke="#111" stroke-width="1.2"/>
<text x="31.25" y="473.30" font-size="8" text-anchor="end" font-weight="normal" fill="#111" stroke="#111" stroke-width="0.15">2</text>
<line x1="34.35" y1="429.10" x2="37.85" y2="429.10" stroke="#111" stroke-width="1.2"/>
<text x="31.25" y="432.00" font-size="8" text-anchor="end" font-weight="normal" fill="#111" stroke="#111" stroke-width="0.15">3</text>
<line x1="34.30" y1="553.00" x2="282.00" y2="553.00" stroke="#111" stroke-width="1.4"/>
<line x1="62.40" y1="553.00" x2="62.40" y2="555.90" stroke="#111" stroke-width="1.2"/>
<line x1="111.20" y1="553.00" x2="111.20" y2="555.90" stroke="#111" stroke-width="1.2"/>
<line x1="160.00" y1="553.00" x2="160.00" y2="555.90" stroke="#111" stroke-width="1.2"/>
<line x1="208.90" y1="553.00" x2="208.90" y2="555.90" stroke="#111" stroke-width="1.2"/>
<line x1="257.80" y1="553.00" x2="257.80" y2="555.90" stroke="#111" stroke-width="1.2"/>
<rect x="46.80" y="423.20" width="9.20" height="9.00" fill="#b5092f"/>
<rect x="46.80" y="436.30" width="9.20" height="9.00" fill="#2c4c84"/>
<rect x="46.80" y="449.40" width="9.20" height="9.00" fill="#6bad3d"/>
<text x="60.00" y="430.30" font-size="7.4" text-anchor="start" font-weight="normal" fill="#111" textLength="18.40" lengthAdjust="spacingAndGlyphs" stroke="#111" stroke-width="0.15">Mock</text>
<text x="60.00" y="443.20" font-size="7.4" text-anchor="start" font-weight="normal" fill="#111" textLength="22.20" lengthAdjust="spacingAndGlyphs" stroke="#111" stroke-width="0.15">HCMV</text>
<text x="60.00" y="456.20" font-size="7.4" text-anchor="start" font-weight="normal" fill="#111" textLength="34.60" lengthAdjust="spacingAndGlyphs" stroke="#111" stroke-width="0.15">UV-HCMV</text>
<text x="0" y="0" font-size="8.8" text-anchor="middle" fill="#111" stroke="#111" stroke-width="0.45" word-spacing="2.02" transform="translate(19.70 485.60) rotate(-90) scale(0.665 1)">Relative expression to GAPDH</text>
<text x="65.50" y="562.60" font-size="8.3" text-anchor="end" font-weight="normal" fill="#111" transform="rotate(-45 65.50 562.60)" stroke="#111" stroke-width="0.2">SAMHD1</text>
<text x="113.50" y="562.60" font-size="8.3" text-anchor="end" font-weight="normal" fill="#111" transform="rotate(-45 113.50 562.60)" stroke="#111" stroke-width="0.2">APOBEC3G</text>
<text x="162.40" y="562.60" font-size="8.3" text-anchor="end" font-weight="normal" fill="#111" transform="rotate(-45 162.40 562.60)" stroke="#111" stroke-width="0.2">Tetherin</text>
<text x="211.10" y="562.60" font-size="8.3" text-anchor="end" font-weight="normal" fill="#111" transform="rotate(-45 211.10 562.60)" stroke="#111" stroke-width="0.2">Mx2</text>
<text x="260.00" y="562.60" font-size="8.3" text-anchor="end" font-weight="normal" fill="#111" transform="rotate(-45 260.00 562.60)" stroke="#111" stroke-width="0.2">β-actin</text>
<line x1="338.35" y1="504.50" x2="338.35" y2="511.75" stroke="#111" stroke-width="1.1"/>
<line x1="335.55" y1="504.50" x2="341.15" y2="504.50" stroke="#111" stroke-width="1.2"/>
<rect x="333.50" y="511.25" width="9.70" height="41.65" fill="#b5092f"/>
<line x1="352.25" y1="456.75" x2="352.25" y2="485.00" stroke="#111" stroke-width="1.1"/>
<line x1="349.45" y1="456.75" x2="355.05" y2="456.75" stroke="#111" stroke-width="1.2"/>
<rect x="347.40" y="484.50" width="9.70" height="68.40" fill="#2c4c84"/>
<line x1="375.25" y1="468.25" x2="375.25" y2="480.00" stroke="#111" stroke-width="1.1"/>
<line x1="372.45" y1="468.25" x2="378.05" y2="468.25" stroke="#111" stroke-width="1.2"/>
<rect x="370.40" y="479.50" width="9.70" height="73.40" fill="#b5092f"/>
<line x1="389.15" y1="473.00" x2="389.15" y2="489.25" stroke="#111" stroke-width="1.1"/>
<line x1="386.35" y1="473.00" x2="391.95" y2="473.00" stroke="#111" stroke-width="1.2"/>
<rect x="384.30" y="488.75" width="9.70" height="64.15" fill="#2c4c84"/>
<line x1="412.25" y1="436.25" x2="412.25" y2="449.25" stroke="#111" stroke-width="1.1"/>
<line x1="409.45" y1="436.25" x2="415.05" y2="436.25" stroke="#111" stroke-width="1.2"/>
<rect x="407.40" y="448.75" width="9.70" height="104.15" fill="#b5092f"/>
<line x1="426.15" y1="456.25" x2="426.15" y2="468.00" stroke="#111" stroke-width="1.1"/>
<line x1="423.35" y1="456.25" x2="428.95" y2="456.25" stroke="#111" stroke-width="1.2"/>
<rect x="421.30" y="467.50" width="9.70" height="85.40" fill="#2c4c84"/>
<line x1="449.55" y1="475.50" x2="449.55" y2="494.75" stroke="#111" stroke-width="1.1"/>
<line x1="446.75" y1="475.50" x2="452.35" y2="475.50" stroke="#111" stroke-width="1.2"/>
<rect x="444.70" y="494.25" width="9.70" height="58.65" fill="#b5092f"/>
<line x1="463.45" y1="481.75" x2="463.45" y2="498.50" stroke="#111" stroke-width="1.1"/>
<line x1="460.65" y1="481.75" x2="466.25" y2="481.75" stroke="#111" stroke-width="1.2"/>
<rect x="458.60" y="498.00" width="9.70" height="54.90" fill="#2c4c84"/>
<line x1="486.75" y1="537.75" x2="486.75" y2="541.25" stroke="#111" stroke-width="1.1"/>
<line x1="483.95" y1="537.75" x2="489.55" y2="537.75" stroke="#111" stroke-width="1.2"/>
<rect x="481.90" y="540.75" width="9.70" height="12.15" fill="#b5092f"/>
<line x1="500.65" y1="541.70" x2="500.65" y2="543.25" stroke="#111" stroke-width="1.1"/>
<line x1="497.85" y1="541.70" x2="503.45" y2="541.70" stroke="#111" stroke-width="1.2"/>
<rect x="495.80" y="542.75" width="9.70" height="10.15" fill="#2c4c84"/>
<line x1="326.80" y1="424.80" x2="326.80" y2="553.60" stroke="#111" stroke-width="1.5"/>
<line x1="323.30" y1="552.90" x2="326.80" y2="552.90" stroke="#111" stroke-width="1.2"/>
<text x="320.20" y="555.80" font-size="8" text-anchor="end" font-weight="normal" fill="#111" stroke="#111" stroke-width="0.15">0</text>
<line x1="323.30" y1="511.26" x2="326.80" y2="511.26" stroke="#111" stroke-width="1.2"/>
<text x="320.20" y="514.16" font-size="8" text-anchor="end" font-weight="normal" fill="#111" stroke="#111" stroke-width="0.15">2</text>
<line x1="323.30" y1="469.62" x2="326.80" y2="469.62" stroke="#111" stroke-width="1.2"/>
<text x="320.20" y="472.52" font-size="8" text-anchor="end" font-weight="normal" fill="#111" stroke="#111" stroke-width="0.15">4</text>
<line x1="323.30" y1="427.98" x2="326.80" y2="427.98" stroke="#111" stroke-width="1.2"/>
<text x="320.20" y="430.88" font-size="8" text-anchor="end" font-weight="normal" fill="#111" stroke="#111" stroke-width="0.15">6</text>
<line x1="323.30" y1="552.90" x2="512.50" y2="552.90" stroke="#111" stroke-width="1.4"/>
<line x1="345.40" y1="552.90" x2="345.40" y2="555.80" stroke="#111" stroke-width="1.2"/>
<line x1="382.30" y1="552.90" x2="382.30" y2="555.80" stroke="#111" stroke-width="1.2"/>
<line x1="419.30" y1="552.90" x2="419.30" y2="555.80" stroke="#111" stroke-width="1.2"/>
<line x1="456.60" y1="552.90" x2="456.60" y2="555.80" stroke="#111" stroke-width="1.2"/>
<line x1="493.80" y1="552.90" x2="493.80" y2="555.80" stroke="#111" stroke-width="1.2"/>
<text x="419.80" y="419.00" font-size="8.9" text-anchor="middle" font-weight="normal" fill="#111" textLength="97.00" lengthAdjust="spacingAndGlyphs" stroke="#111" stroke-width="0.25">Supernatants at d5 P.I.</text>
<text x="0" y="0" font-size="8.8" text-anchor="middle" fill="#111" stroke="#111" stroke-width="0.45" word-spacing="2.02" transform="translate(309.60 485.60) rotate(-90) scale(0.665 1)">Relative expression to GAPDH</text>
<text x="346.40" y="562.50" font-size="8.3" text-anchor="end" font-weight="normal" fill="#111" transform="rotate(-45 346.40 562.50)" stroke="#111" stroke-width="0.2">SAMHD1</text>
<text x="384.30" y="562.50" font-size="8.3" text-anchor="end" font-weight="normal" fill="#111" transform="rotate(-45 384.30 562.50)" stroke="#111" stroke-width="0.2">APOBEC3G</text>
<text x="422.10" y="562.50" font-size="8.3" text-anchor="end" font-weight="normal" fill="#111" transform="rotate(-45 422.10 562.50)" stroke="#111" stroke-width="0.2">Tetherin</text>
<text x="458.40" y="562.50" font-size="8.3" text-anchor="end" font-weight="normal" fill="#111" transform="rotate(-45 458.40 562.50)" stroke="#111" stroke-width="0.2">Mx2</text>
<text x="497.00" y="562.50" font-size="8.3" text-anchor="end" font-weight="normal" fill="#111" transform="rotate(-45 497.00 562.50)" stroke="#111" stroke-width="0.2">β-actin</text>
</svg>
</body></html>
